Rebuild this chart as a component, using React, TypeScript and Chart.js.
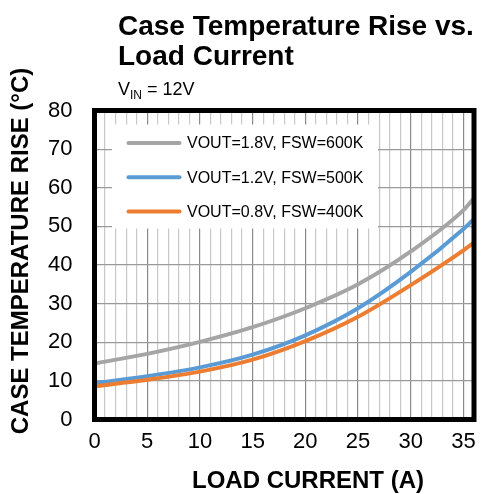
import React, { useEffect, useRef } from 'react';
import { Chart, registerables } from 'chart.js';

Chart.register(...registerables);

const loadCurrent = [0, 5, 10, 15, 20, 25, 30, 35, 36];
const rise18 = [14.5, 17.0, 20.1, 23.9, 28.8, 35.0, 43.5, 54.2, 57.3];
const rise12 = [9.4, 11.2, 13.5, 16.8, 21.8, 28.8, 38.2, 49.3, 51.9];
const rise08 = [8.6, 10.3, 12.4, 15.5, 20.3, 26.6, 34.8, 43.8, 45.8];
const seriesLabels = ['VOUT=1.8V, FSW=600K', 'VOUT=1.2V, FSW=500K', 'VOUT=0.8V, FSW=400K'];
const seriesColors = ['#A5A5A5', '#5B9BD5', '#ED7D31'];
const titleLines = ['Case Temperature Rise vs.', 'Load Current'];
const subtitleMain = 'V';
const subtitleSub = 'IN';
const subtitleRest = ' = 12V';
const xTitle = 'LOAD CURRENT (A)';
const yTitle = 'CASE TEMPERATURE RISE (°C)';

const FONT = "'Liberation Sans', Arial, Helvetica, sans-serif";

const decor = {
  id: 'decor',
  beforeDatasetsDraw(chart: any) {
    const { ctx, chartArea: a } = chart;
    ctx.save();
    const bx = a.left + 17.5;
    const by = a.top + 14;
    ctx.fillStyle = '#ffffff';
    ctx.fillRect(bx, by, 266, 104);
    chart.data.datasets.forEach((ds: any, i: number) => {
      const y = by + 18.5 + i * 34.3;
      ctx.strokeStyle = ds.borderColor;
      ctx.lineWidth = 4;
      ctx.lineCap = 'round';
      ctx.beginPath();
      ctx.moveTo(a.left + 34, y);
      ctx.lineTo(a.left + 85, y);
      ctx.stroke();
      ctx.fillStyle = '#000';
      ctx.font = `16px ${FONT}`;
      ctx.textBaseline = 'middle';
      ctx.textAlign = 'left';
      ctx.fillText(ds.label, a.left + 92.5, y + 1);
    });
    ctx.restore();
  },
  afterDatasetsDraw(chart: any) {
    const { ctx, chartArea: a } = chart;
    ctx.save();
    ctx.strokeStyle = '#000';
    ctx.lineWidth = 5;
    ctx.strokeRect(a.left, a.top, a.right - a.left, a.bottom - a.top);
    ctx.restore();
  },
  afterDraw(chart: any) {
    const { ctx } = chart;
    ctx.save();
    ctx.fillStyle = '#000';
    ctx.textAlign = 'left';
    ctx.textBaseline = 'alphabetic';
    ctx.font = `bold 28px ${FONT}`;
    ctx.fillText(titleLines[0], 118, 35);
    ctx.fillText(titleLines[1], 118, 65);
    ctx.font = `18px ${FONT}`;
    let x = 118;
    ctx.fillText(subtitleMain, x, 95);
    x += ctx.measureText(subtitleMain).width;
    ctx.font = `12px ${FONT}`;
    ctx.fillText(subtitleSub, x, 99);
    x += ctx.measureText(subtitleSub).width;
    ctx.font = `18px ${FONT}`;
    ctx.fillText(subtitleRest, x, 95);

    ctx.font = `bold 24px ${FONT}`;
    ctx.textAlign = 'center';
    ctx.textBaseline = 'middle';
    ctx.fillText(xTitle, 308, 481);
    ctx.translate(21, 251);
    ctx.rotate(-Math.PI / 2);
    ctx.fillText(yTitle, 0, 0);
    ctx.restore();
  },
};

export default function App() {
  const ref = useRef<HTMLCanvasElement | null>(null);
  useEffect(() => {
    if (!ref.current) return;
    const series = [rise18, rise12, rise08];
    const chart = new Chart(ref.current, {
      type: 'line',
      data: {
        datasets: series.map((vals, i) => ({
          label: seriesLabels[i],
          data: loadCurrent.map((x, j) => ({ x, y: vals[j] })),
          borderColor: seriesColors[i],
          backgroundColor: seriesColors[i],
          borderWidth: 4,
          pointRadius: 0,
          cubicInterpolationMode: 'monotone' as const,
          order: 2 - i,
        })),
      },
      options: {
        responsive: false,
        animation: false,
        layout: { padding: { top: 110.5, right: 3.5, left: 0, bottom: 0 } },
        plugins: {
          legend: { display: false },
          title: { display: false },
          tooltip: { enabled: false },
        },
        scales: {
          x: {
            type: 'linear',
            min: 0,
            max: 36,
            afterFit: (s: any) => {
              s.height = 74.5;
            },
            ticks: {
              stepSize: 1,
              autoSkip: false,
              maxRotation: 0,
              minRotation: 0,
              padding: 9,
              color: '#000',
              font: { family: FONT, size: 22 },
              callback: (v: any) => (Number(v) % 5 === 0 && Number(v) <= 35 ? String(v) : ''),
            },
            grid: {
              drawTicks: false,
              lineWidth: 1.2,
              color: (c: any) => (c.tick && c.tick.value % 5 === 0 ? '#8a8a8a' : '#c8c8c8'),
            },
            border: { display: false },
          },
          y: {
            min: 0,
            max: 80,
            afterFit: (s: any) => {
              s.width = 94.5;
            },
            ticks: {
              stepSize: 10,
              padding: 22,
              color: '#000',
              font: { family: FONT, size: 22 },
            },
            grid: { drawTicks: false, lineWidth: 1.2, color: '#9a9a9a' },
            border: { display: false },
          },
        },
      },
      plugins: [decor],
    });
    return () => chart.destroy();
  }, []);
  return (
    <div style={{ position: 'fixed', left: 0, top: 0, width: 483, height: 494, background: '#fff' }}>
      <canvas ref={ref} width={483} height={494} style={{ display: 'block' }} />
    </div>
  );
}
